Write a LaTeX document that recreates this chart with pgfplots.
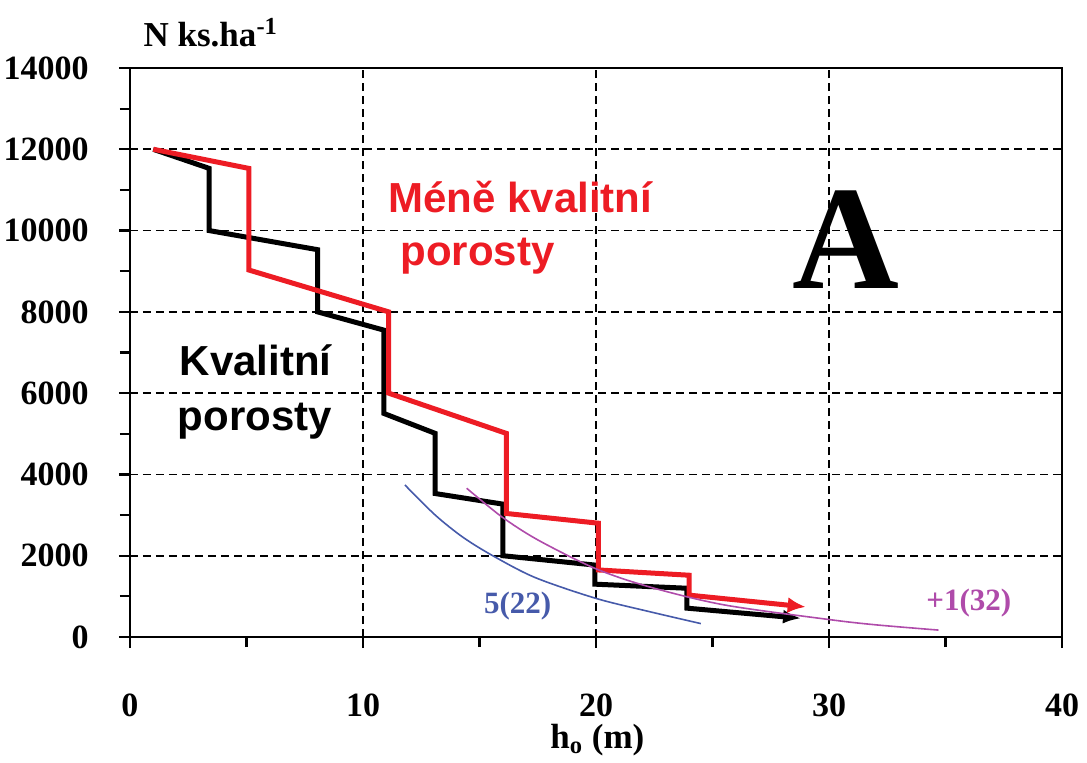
\documentclass[border=0pt]{standalone}
\usepackage{fontspec}
\setmainfont{Liberation Serif}
\newfontfamily\sansf{Liberation Sans}
\usepackage{pgfplots}
\pgfplotsset{compat=1.18}
\usetikzlibrary{arrows.meta,calc}
\definecolor{myred}{RGB}{237,28,36}
\definecolor{myblue}{RGB}{70,90,170}
\definecolor{mymag}{RGB}{175,75,170}
\begin{document}
\begin{tikzpicture}
\begin{axis}[
 scale only axis, width=466pt, height=284.5pt,
 xmin=0, xmax=40, ymin=0, ymax=14000,
 xtick={0,10,20,30,40}, ytick={0,2000,...,14000},
 minor x tick num=1, minor y tick num=1,
 tick align=outside, xtick pos=bottom, ytick pos=left,
 major tick length=5.5pt, minor tick length=5pt,
 grid=major,
 major grid style={black, line width=0.9pt, dash pattern=on 4pt off 2.5pt},
 axis line style={line width=1.1pt},
 tick style={black, line width=1.1pt},
 scaled ticks=false,
 /pgf/number format/assume math mode=true,
 /pgf/number format/set thousands separator={},
 ticklabel style={font=\fontsize{17}{20}\selectfont\bfseries},
 xticklabel style={anchor=base, inner sep=0pt, yshift=-34pt},
 yticklabel style={anchor=east, inner sep=0pt, xshift=-15pt},
 clip=false,
]
% Kvalitni porosty (black)
\addplot[black, line width=2.5pt, -{Latex[length=9pt,width=7pt]}] coordinates {
 (1,12000) (3.4,11530) (3.4,10000) (8.05,9530) (8.05,8000) (10.9,7550)
 (10.9,5500) (13.1,5010) (13.1,3530) (16,3270) (16,2000) (19.95,1770)
 (19.95,1300) (23.9,1200) (23.9,710) (28.8,460)};
% Mene kvalitni porosty (red)
\addplot[myred, line width=2.5pt, -{Latex[length=9pt,width=8pt]}] coordinates {
 (1,12000) (5.1,11530) (5.1,9030) (11.1,8000) (11.1,6000) (16.15,5010)
 (16.15,3040) (20.1,2800) (20.1,1650) (24.0,1520) (24.0,1030) (29.0,740)};
% 5(22) curve
\addplot[myblue, line width=0.8pt, smooth] coordinates {
 (11.8,3740) (13.1,3000) (14.3,2450) (15.6,1990) (17.4,1460) (20.0,950)
 (22.25,630) (24.5,330)};
% +1(32) curve
\addplot[mymag, line width=0.8pt, smooth] coordinates {
 (14.45,3660) (15.95,2960) (17.5,2390) (19.95,1690) (22.25,1240) (25.5,790)
 (30.0,430) (32.0,300) (34.7,170)};

\node[anchor=base west, inner sep=0pt, text=myred, font=\sansf\bfseries\fontsize{21}{24}\selectfont] at (axis cs:11.07,10457) {Méně kvalitní};
\node[anchor=base west, inner sep=0pt, text=myred, font=\sansf\bfseries\fontsize{21}{24}\selectfont] at (axis cs:11.59,9153) {porosty};
\node[anchor=base, inner sep=0pt, text=black, font=\sansf\bfseries\fontsize{21}{24}\selectfont] at (axis cs:5.39,6446) {Kvalitní};
\node[anchor=base, inner sep=0pt, text=black, font=\sansf\bfseries\fontsize{21}{24}\selectfont] at (axis cs:5.36,5093) {porosty};
\node[anchor=base, inner sep=0pt, font=\fontsize{74}{80}\selectfont\bfseries] at (axis cs:30.71,8587) {A};
\node[anchor=base, inner sep=0pt, text=myblue, font=\fontsize{15.5}{18}\selectfont\bfseries] at (axis cs:16.64,583) {5(22)};
\node[anchor=base, inner sep=0pt, text=mymag, font=\fontsize{15.5}{18}\selectfont\bfseries] at (axis cs:36.0,664) {+1(32)};
\node[anchor=base west, inner sep=0pt, font=\fontsize{17.5}{20}\selectfont\bfseries] at (axis cs:0.57,14524) {N ks.ha\textsuperscript{-1}};
\node[anchor=base, inner sep=0pt, font=\fontsize{17.5}{20}\selectfont\bfseries] at (axis cs:20.06,-2740) {h\textsubscript{o} (m)};
\end{axis}
\pgfresetboundingbox
\path ($(current axis.south west)+(-65pt,-62.5pt)$) rectangle ($(current axis.north east)+(12.5pt,34pt)$);
\end{tikzpicture}
\end{document}
